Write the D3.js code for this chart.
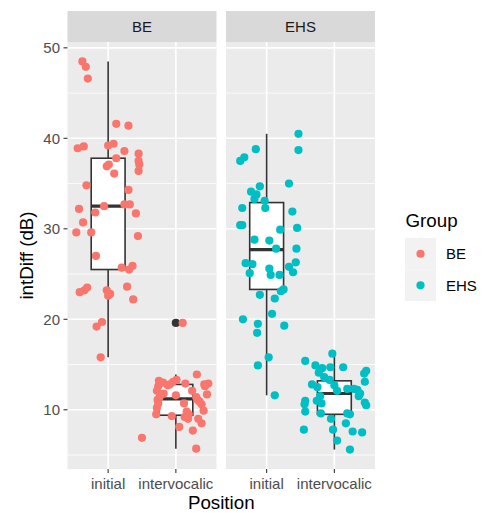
<!DOCTYPE html>
<html>
<head>
<meta charset="utf-8">
<script src="https://cdn.jsdelivr.net/npm/d3@7"></script>
<style>
  body { margin: 0; background: #fff; }
  text { font-family: "Liberation Sans", Arial, sans-serif; }
</style>
</head>
<body>
<svg></svg>
<script>
let width = 482, height = 513;

// facets, x categories, legend
const groups = ["BE", "EHS"];
const positions = ["initial", "intervocalic"];
const groupColors = ["#F8766D", "#00BFC4"];
const yTicks = [10, 20, 30, 40, 50];
const yMinor = [5, 15, 25, 35, 45];

// intDiff values, with the jitter offsets (in category steps)
const beInitial = [48.5, 47.9, 46.6, 41.6, 41.4, 38.9, 39.1, 39.2, 39.4, 38.6, 38.3, 37.8, 37.5, 37.1, 37.1, 36.9, 36.4, 36.1, 34.8, 34.3, 32.2, 31.8, 32.5, 32.7, 32.7, 31.7, 30.7, 29.6, 29.6, 29.2, 27.0, 25.7, 25.5, 25.9, 23.5, 23.0, 23.2, 23.2, 22.8, 22.6, 23.6, 22.2, 19.7, 19.2, 15.8];
const beInitialJitter = [-0.38, -0.33, -0.30, 0.12, 0.30, -0.45, -0.36, 0.00, 0.08, 0.24, 0.45, 0.12, 0.45, 0.46, 0.01, -0.02, 0.45, 0.09, -0.32, 0.30, -0.43, -0.19, -0.06, 0.24, 0.32, 0.41, -0.37, -0.47, -0.25, 0.44, -0.18, 0.20, 0.31, 0.36, -0.31, -0.42, -0.35, -0.02, 0.03, 0.00, 0.28, 0.37, -0.09, -0.17, -0.11];

const beInter = [19.6, 13.9, 13.2, 12.6, 12.7, 13.1, 13.3, 12.9, 12.8, 12.9, 12.1, 11.8, 12.1, 11.7, 11.6, 11.1, 11.1, 10.7, 10.2, 10.6, 9.9, 9.8, 9.5, 9.3, 9.0, 9.0, 8.5, 8.1, 7.7, 6.9, 5.7, 13.0, 12.8, 11.4, 10.9, 11.4, 9.5, 9.2, 10.7, 12.6];
const beInterJitter = [0.10, 0.31, -0.25, -0.26, -0.12, -0.04, 0.01, 0.14, 0.42, 0.48, -0.28, -0.18, 0.24, 0.46, 0.00, -0.27, 0.32, 0.12, -0.28, 0.38, 0.41, 0.16, -0.29, -0.06, 0.18, 0.33, 0.38, 0.05, 0.25, -0.50, 0.30, -0.19, -0.09, -0.24, 0.35, 0.30, 0.19, 0.13, -0.26, 0.43];

const ehsInitial = [40.5, 38.7, 38.8, 37.9, 37.5, 35.0, 34.7, 34.1, 33.8, 33.3, 33.1, 32.3, 32.3, 31.9, 30.4, 30.4, 30.1, 29.9, 28.8, 28.7, 27.8, 27.8, 26.2, 26.1, 26.3, 25.8, 25.6, 25.1, 24.9, 24.9, 25.2, 23.3, 23.1, 22.7, 22.3, 20.6, 20.0, 19.5, 19.3, 18.5, 15.8, 14.9, 11.6];
const ehsInitialJitter = [0.47, 0.47, -0.16, -0.33, -0.39, 0.33, -0.10, -0.23, -0.15, -0.18, -0.03, -0.02, -0.36, 0.38, -0.39, -0.36, 0.45, 0.20, -0.18, 0.04, 0.14, 0.44, -0.31, -0.21, 0.43, 0.33, 0.04, -0.25, 0.06, 0.19, 0.39, 0.25, 0.21, -0.10, 0.12, 0.08, -0.35, -0.13, 0.26, -0.14, 0.03, -0.13, 0.12];

const ehsInter = [16.2, 15.4, 14.9, 14.6, 14.7, 14.7, 14.1, 14.3, 14.0, 13.6, 13.3, 13.1, 12.8, 12.5, 12.7, 12.1, 12.3, 12.3, 12.2, 11.8, 11.5, 11.5, 11.0, 11.0, 10.6, 10.7, 10.5, 10.8, 9.8, 9.6, 9.6, 9.5, 9.0, 8.5, 7.8, 7.8, 7.6, 7.5, 6.6, 5.6];
const ehsInterJitter = [-0.03, -0.43, -0.28, -0.18, -0.06, 0.13, -0.23, 0.47, 0.44, -0.15, -0.07, 0.45, -0.33, -0.25, 0.00, 0.04, 0.19, 0.29, 0.34, 0.38, 0.36, -0.21, -0.26, -0.43, -0.44, -0.19, 0.47, 0.45, -0.43, -0.20, 0.19, 0.23, -0.05, 0.17, -0.45, -0.02, 0.27, 0.41, 0.04, 0.23];

// box stats: [lower whisker, q1, median, q3, upper whisker]
const beInitialBox = [15.8, 25.5, 32.5, 37.8, 48.5];
const beInterBox = [5.7, 9.4, 11.2, 12.8, 13.9];
const ehsInitialBox = [11.6, 23.3, 27.7, 32.9, 40.5];
const ehsInterBox = [5.6, 9.5, 11.8, 13.2, 16.2];
const beInterOutliers = [19.6];

const cells = [
    { group: "BE", position: "initial", values: beInitial, jitter: beInitialJitter, box: beInitialBox, outliers: [] },
    { group: "BE", position: "intervocalic", values: beInter, jitter: beInterJitter, box: beInterBox, outliers: beInterOutliers },
    { group: "EHS", position: "initial", values: ehsInitial, jitter: ehsInitialJitter, box: ehsInitialBox, outliers: [] },
    { group: "EHS", position: "intervocalic", values: ehsInter, jitter: ehsInterJitter, box: ehsInterBox, outliers: [] }
];

let svg = d3.select("svg")
    .attr("width", width)
    .attr("height", height);

let panelTop = 42, panelBottom = 469, panelLeft = 67.5, panelW = 149, panelGap = 9.5;
let stripTop = 11;

let allValues = cells.flatMap(c => c.values);
let lo = d3.min(allValues), hi = d3.max(allValues), pad = (hi - lo) * 0.05;

let y = d3.scaleLinear()
    .domain([lo - pad, hi + pad])
    .range([panelBottom, panelTop]);

let facetX = d3.scaleOrdinal()
    .domain(groups)
    .range(groups.map((g, i) => panelLeft + i * (panelW + panelGap)));

let x = d3.scalePoint()
    .domain(positions)
    .range([0, panelW])
    .padding(0.6);

let color = d3.scaleOrdinal().domain(groups).range(groupColors);

let boxW = x.step() * 0.5;

groups.forEach(g => {
    let p = svg.append("g").attr("transform", "translate(" + facetX(g) + ",0)");

    // strip
    p.append("rect")
        .attr("x", 0).attr("y", stripTop)
        .attr("width", panelW).attr("height", panelTop - stripTop)
        .attr("fill", "#D9D9D9");
    p.append("text")
        .attr("x", panelW / 2).attr("y", 32)
        .attr("text-anchor", "middle")
        .attr("font-size", 15)
        .attr("fill", "#1A1A1A")
        .text(g);

    // panel background + grid
    p.append("rect")
        .attr("x", 0).attr("y", panelTop)
        .attr("width", panelW).attr("height", panelBottom - panelTop)
        .attr("fill", "#EBEBEB");

    p.selectAll(".minor").data(yMinor).enter().append("line")
        .attr("x1", 0).attr("x2", panelW)
        .attr("y1", d => y(d)).attr("y2", d => y(d))
        .attr("stroke", "#fff").attr("stroke-width", 0.8);

    p.selectAll(".major").data(yTicks).enter().append("line")
        .attr("x1", 0).attr("x2", panelW)
        .attr("y1", d => y(d)).attr("y2", d => y(d))
        .attr("stroke", "#fff").attr("stroke-width", 1.6);

    p.selectAll(".vmajor").data(positions).enter().append("line")
        .attr("x1", d => x(d)).attr("x2", d => x(d))
        .attr("y1", panelTop).attr("y2", panelBottom)
        .attr("stroke", "#fff").attr("stroke-width", 1.6);

    // x axis ticks and labels
    p.selectAll(".xtick").data(positions).enter().append("line")
        .attr("x1", d => x(d)).attr("x2", d => x(d))
        .attr("y1", panelBottom).attr("y2", panelBottom + 4)
        .attr("stroke", "#333").attr("stroke-width", 1.1);
    p.selectAll(".xlab").data(positions).enter().append("text")
        .attr("x", d => x(d)).attr("y", 488.5)
        .attr("text-anchor", "middle")
        .attr("font-size", 15)
        .attr("fill", "#4D4D4D")
        .text(d => d);

    // boxplots
    cells.filter(c => c.group == g).forEach(c => {
        let cx = x(c.position), b = c.box;
        p.append("line")
            .attr("x1", cx).attr("x2", cx)
            .attr("y1", y(b[3])).attr("y2", y(b[4]))
            .attr("stroke", "#333").attr("stroke-width", 1.6);
        p.append("line")
            .attr("x1", cx).attr("x2", cx)
            .attr("y1", y(b[1])).attr("y2", y(b[0]))
            .attr("stroke", "#333").attr("stroke-width", 1.6);
        p.append("rect")
            .attr("x", cx - boxW / 2).attr("y", y(b[3]))
            .attr("width", boxW).attr("height", y(b[1]) - y(b[3]))
            .attr("fill", "#fff").attr("stroke", "#333").attr("stroke-width", 1.6);
        p.append("line")
            .attr("x1", cx - boxW / 2).attr("x2", cx + boxW / 2)
            .attr("y1", y(b[2])).attr("y2", y(b[2]))
            .attr("stroke", "#333").attr("stroke-width", 3.2);
        p.selectAll(null).data(c.outliers).enter().append("circle")
            .attr("cx", cx).attr("cy", d => y(d))
            .attr("r", 4.1).attr("fill", "#333");
    });

    // jittered points
    cells.filter(c => c.group == g).forEach(c => {
        p.selectAll(null).data(c.values).enter().append("circle")
            .attr("cx", (d, i) => x(c.position) + c.jitter[i] * x.step())
            .attr("cy", d => y(d))
            .attr("r", 4.1)
            .attr("fill", color(g));
    });
});

// y axis (left panel only)
let yAxis = svg.append("g");
yAxis.selectAll("line").data(yTicks).enter().append("line")
    .attr("x1", panelLeft - 4).attr("x2", panelLeft)
    .attr("y1", d => y(d)).attr("y2", d => y(d))
    .attr("stroke", "#333").attr("stroke-width", 1.1);
yAxis.selectAll("text").data(yTicks).enter().append("text")
    .attr("x", panelLeft - 7.5).attr("y", d => y(d))
    .attr("dy", "0.35em")
    .attr("text-anchor", "end")
    .attr("font-size", 15)
    .attr("fill", "#4D4D4D")
    .text(d => d);

// axis titles
svg.append("text")
    .attr("x", panelLeft + panelW + panelGap / 2).attr("y", 508.5)
    .attr("text-anchor", "middle")
    .attr("font-size", 18.75)
    .attr("fill", "#000")
    .text("Position");

svg.append("text")
    .attr("transform", "translate(33," + (panelTop + panelBottom) / 2 + ") rotate(-90)")
    .attr("text-anchor", "middle")
    .attr("font-size", 18.75)
    .attr("fill", "#000")
    .text("intDiff (dB)");

// legend
let legend = svg.append("g").attr("transform", "translate(405,0)");
legend.append("text")
    .attr("x", 0.5).attr("y", 227)
    .attr("font-size", 18.75)
    .attr("fill", "#000")
    .text("Group");

let keys = legend.selectAll(".key").data(groups).enter().append("g")
    .attr("transform", (d, i) => "translate(0," + (238 + i * 31.5) + ")");
keys.append("rect")
    .attr("width", 31).attr("height", 31.5)
    .attr("fill", "#F2F2F2");
keys.append("circle")
    .attr("cx", 15.5).attr("cy", 15.75)
    .attr("r", 4.1)
    .attr("fill", d => color(d));
keys.append("text")
    .attr("x", 41).attr("y", 15.75)
    .attr("dy", "0.35em")
    .attr("font-size", 15)
    .attr("fill", "#000")
    .text(d => d);
</script>
</body>
</html>
